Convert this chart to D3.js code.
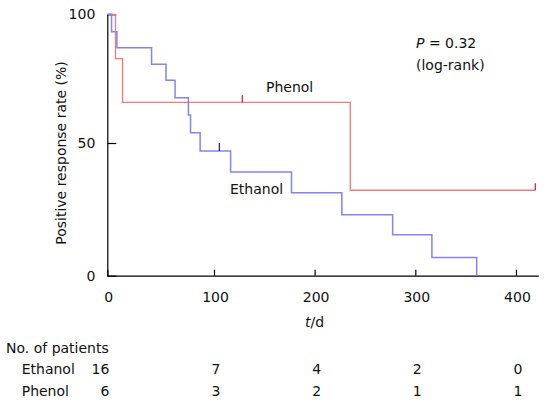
<!DOCTYPE html>
<html>
<head>
<meta charset="utf-8">
<script src="https://cdn.jsdelivr.net/npm/d3@7"></script>
<style>
  html, body { margin: 0; padding: 0; background: #fff; }
  svg { display: block; }
  text { font-family: "DejaVu Sans", Verdana, sans-serif; font-size: 14px; fill: #111; }
</style>
</head>
<body>
<svg id="chart" width="548" height="411"></svg>
<script>
// ---- Data ----
const ethanolTimes = [0, 4, 9, 41.5, 55, 63.5, 76, 78, 87, 116.5, 177, 227, 277.5, 316.5, 361];
const ethanolSurv  = [100, 93.2, 87.0, 80.6, 74.4, 67.6, 60.9, 54.0, 47.0, 39.1, 31.3, 23.0, 15.4, 6.9, 0];
const ethanolCensorTimes = [105.3];

const phenolTimes = [0, 7.7, 14.3, 235.4, 419.2];
const phenolSurv  = [100, 82.8, 65.8, 32.2, 32.2];
const phenolCensorTimes = [128.1, 419.2];

const xTicks = [0, 100, 200, 300, 400];
const yTicks = [0, 50, 100];

const riskGroups = ["Ethanol", "Phenol"];
const ethanolAtRisk = [16, 7, 4, 2, 0];
const phenolAtRisk  = [6, 3, 2, 1, 1];

// ---- Scales ----
const svg = d3.select("#chart");
const x = d3.scaleLinear().domain([0, 100, 422.2]).range([107.3, 214, 538.3]);
const y = d3.scaleLinear().domain([0, 50, 100]).range([275.7, 143, 14.3]);

function survAt(times, surv, t) {
  let v = surv[0];
  for (let i = 0; i < times.length; i++) if (times[i] <= t) v = surv[i];
  return v;
}

// ---- Axes ----
const xAxis = svg.append("g").attr("transform", `translate(0,${y(0)})`)
  .call(d3.axisBottom(x).tickValues(xTicks).tickSize(-6).tickSizeOuter(0).tickFormat(d3.format("d")));
xAxis.selectAll("text").attr("dy", null).attr("y", 26.3).attr("dx", 1);
const yAxis = svg.append("g").attr("transform", `translate(${x(0)},0)`)
  .call(d3.axisLeft(y).tickValues(yTicks).tickSize(-9).tickSizeOuter(0));
yAxis.selectAll("text").attr("x", -12);
svg.selectAll(".domain, .tick line").attr("stroke", "#000").attr("stroke-width", 1.2);
svg.selectAll(".tick text").style("font-size", "14px").attr("fill", "#111");

// ---- Curves ----
const line = d3.line().x(d => x(d[0])).y(d => y(d[1])).curve(d3.curveStepAfter);
const ethData = ethanolTimes.map((t, i) => [t, ethanolSurv[i]]);
const phData = phenolTimes.map((t, i) => [t, phenolSurv[i]]);

svg.append("path").datum(phData).attr("d", line)
  .attr("fill", "none").attr("stroke", "#f07a7a").attr("stroke-width", 1.3);
svg.append("path").datum(ethData).attr("d", line)
  .attr("fill", "none").attr("stroke", "#8484ec").attr("stroke-width", 1.5);

// censor marks
ethanolCensorTimes.forEach(t => {
  const v = survAt(ethanolTimes, ethanolSurv, t);
  svg.append("line").attr("x1", x(t)).attr("x2", x(t)).attr("y1", y(v)).attr("y2", y(v) - 8)
    .attr("stroke", "#1c1c8c").attr("stroke-width", 1.2);
});
phenolCensorTimes.forEach(t => {
  const v = survAt(phenolTimes, phenolSurv, t);
  svg.append("line").attr("x1", x(t)).attr("x2", x(t)).attr("y1", y(v)).attr("y2", y(v) - 7)
    .attr("stroke", "#b82020").attr("stroke-width", 1.2);
});

// ---- Labels ----
svg.append("text").attr("transform", `translate(66,${(y(0) + y(100)) / 2 + 8}) rotate(-90)`)
  .attr("text-anchor", "middle").text("Positive response rate (%)");

const xl = svg.append("text").attr("x", x(200)).attr("y", 326.7).attr("text-anchor", "middle");
xl.append("tspan").attr("font-style", "italic").text("t");
xl.append("tspan").text("/d");

svg.append("text").attr("x", 266).attr("y", 91.7).text("Phenol");
svg.append("text").attr("x", 230).attr("y", 194).text("Ethanol");

const pl = svg.append("text").attr("x", 416).attr("y", 47.7);
pl.append("tspan").attr("font-style", "italic").text("P");
pl.append("tspan").text(" = 0.32");
svg.append("text").attr("x", 416).attr("y", 70).text("(log-rank)");

// ---- Risk table ----
svg.append("text").attr("x", 6).attr("y", 352.7).text("No. of patients");
const rows = [ethanolAtRisk, phenolAtRisk];
const rowY = [374, 395.5];
rows.forEach((vals, r) => {
  svg.append("text").attr("x", 21.7).attr("y", rowY[r]).text(riskGroups[r]);
  vals.forEach((v, i) => {
    svg.append("text")
      .attr("x", i === 0 ? x(xTicks[i]) + 2 : x(xTicks[i]) + 2)
      .attr("y", rowY[r])
      .attr("text-anchor", i === 0 ? "end" : "middle")
      .text(v);
  });
});
</script>
</body>
</html>
